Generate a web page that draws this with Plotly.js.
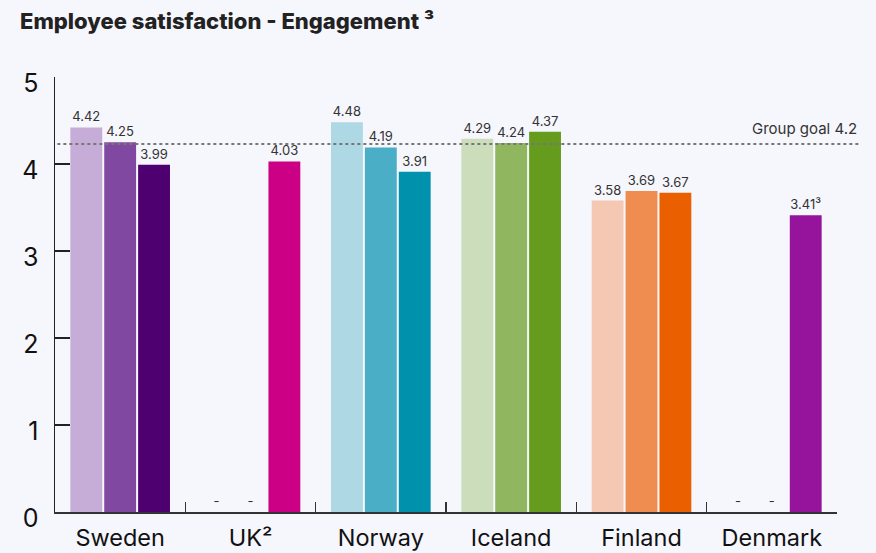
<!DOCTYPE html>
<html>
<head>
<meta charset="utf-8">
<script src="https://cdn.plot.ly/plotly-3.0.1.min.js"></script>
<style>
html,body{margin:0;padding:0;background:#f6f6fd;}
#chart{width:876px;height:553px;}
</style>
</head>
<body>
<div id="chart"></div>
<script>
// Data
const countries = ["Sweden", "UK²", "Norway", "Iceland", "Finland", "Denmark"];
const series1 = [4.42, 0, 4.48, 4.29, 3.58, 0];
const series2 = [4.25, 0, 4.19, 4.24, 3.69, 0];
const series3 = [3.99, 4.03, 3.91, 4.37, 3.67, 3.41];
const labels1 = ["4.42", "-", "4.48", "4.29", "3.58", "-"];
const labels2 = ["4.25", "-", "4.19", "4.24", "3.69", "-"];
const labels3 = ["3.99", "4.03", "3.91", "4.37", "3.67", "3.41³"];
const colors1 = ["#c5add8", "#cc0085", "#add8e4", "#cbddba", "#f4c8b2", "#95149b"];
const colors2 = ["#8048a0", "#cc0085", "#4aaec6", "#90b760", "#ef8c50", "#95149b"];
const colors3 = ["#4e0070", "#cc0085", "#0092ad", "#659c1e", "#ea5f00", "#95149b"];
const goalLabel = "Group goal 4.2";
const goalLine = 4.23;

const FONT = "Inter, 'Open Sans', sans-serif";

function mk(vals, txt, cols) {
  return {
    type: "bar",
    x: countries,
    y: vals,
    text: txt,
    textposition: "outside",
    textangle: 0,
    cliponaxis: false,
    constraintext: "none",
    outsidetextfont: {family: FONT, size: 13, color: "#333"},
    marker: {color: cols, line: {width: 0}},
    hoverinfo: "none",
    showlegend: false
  };
}

const data = [mk(series1, labels1, colors1), mk(series2, labels2, colors2), mk(series3, labels3, colors3)];

const layout = {
  width: 876,
  height: 553,
  paper_bgcolor: "#f6f6fd",
  plot_bgcolor: "#f6f6fd",
  margin: {l: 55, r: 39, t: 77, b: 41},
  barmode: "group",
  bargap: 0.22,
  bargroupgap: 0.06,
  font: {family: FONT, color: "#222"},
  title: {
    text: "Employee satisfaction - Engagement ³",
    font: {family: FONT, size: 22, color: "#222", weight: 800},
    xref: "container", x: 20/876, xanchor: "left",
    yref: "container", y: 1 - 21/553, yanchor: "middle"
  },
  xaxis: {
    type: "category",
    showline: true, linecolor: "#333", linewidth: 1.5,
    ticks: "inside", tickson: "boundaries", ticklen: 10, tickwidth: 1.5, tickcolor: "#333",
    tickfont: {family: FONT, size: 23.5, color: "#111"},
    ticklabelstandoff: 4,
    showgrid: false, zeroline: false,
    fixedrange: true
  },
  yaxis: {
    range: [0, 5],
    tickvals: [0, 1, 2, 3, 4, 5],
    showline: true, linecolor: "#222", linewidth: 1.5,
    ticks: "inside", ticklen: 15, tickwidth: 1.5, tickcolor: "#222",
    tickfont: {family: FONT, size: 25, color: "#111"},
    ticklabelstandoff: 10,
    ticklabelshift: 6,
    showgrid: false, zeroline: false,
    fixedrange: true
  },
  shapes: [{
    type: "line", xref: "paper", yref: "y",
    x0: 0.003, x1: (859 - 55) / 782, y0: goalLine, y1: goalLine,
    line: {color: "#777", width: 2, dash: "dot"},
    layer: "above"
  }],
  annotations: [{
    xref: "paper", yref: "y", x: (859 - 55) / 782, y: goalLine,
    xanchor: "right", yanchor: "bottom", yshift: 4,
    text: goalLabel, showarrow: false,
    font: {family: FONT, size: 15, color: "#333"}
  }]
};

Plotly.newPlot("chart", data, layout, {displayModeBar: false, staticPlot: true});
</script>
</body>
</html>
